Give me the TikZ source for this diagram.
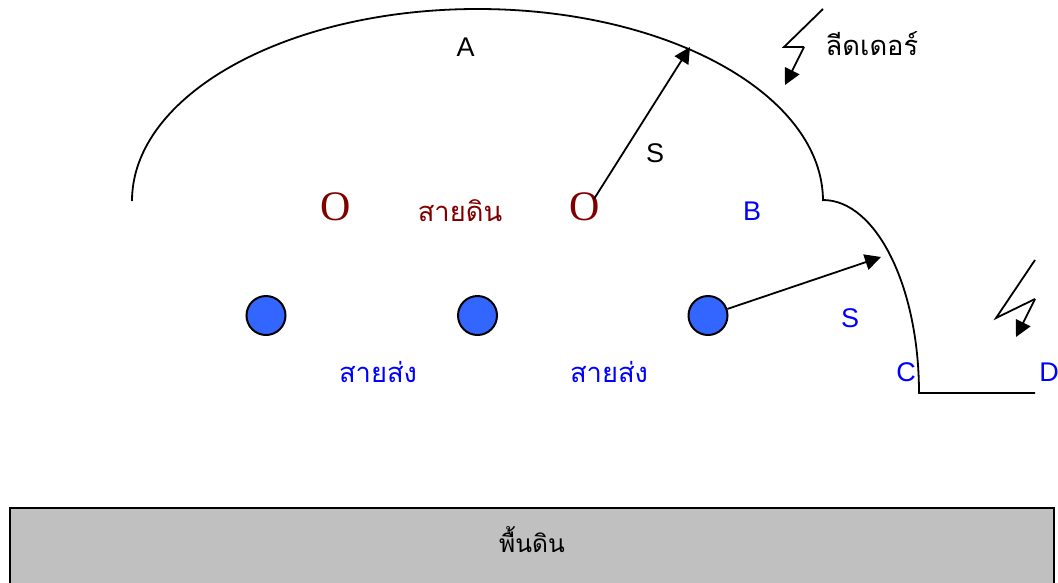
\documentclass[tikz,border=0pt]{standalone}
\usepackage{fontspec}
\setmainfont{Liberation Sans}
\newfontfamily\thaifont[Script=Thai]{Loma}
\newfontfamily\serifO{Liberation Serif}
\usetikzlibrary{arrows.meta}
\definecolor{wireblue}{HTML}{3366FF}
\definecolor{labelblue}{HTML}{0000FF}
\definecolor{earthred}{HTML}{800000}
\definecolor{ground}{HTML}{C0C0C0}
\tikzset{
  line/.style={draw=black,line width=1.8pt},
  arrowline/.style={line,-{Triangle[length=16pt,width=16pt]}},
  wire/.style={circle,draw=black,line width=2pt,fill=wireblue,minimum size=39pt,inner sep=0pt},
  lbl/.style={inner sep=0pt,font=\fontsize{27}{30}\selectfont},
  thai/.style={inner sep=0pt,font=\fontsize{27.3}{32}\selectfont\thaifont},
  earthO/.style={inner sep=0pt,text=earthred,font=\fontsize{42}{46}\selectfont\serifO}
}
\begin{document}
\begin{tikzpicture}[x=1pt,y=-1pt]
\useasboundingbox (0,0) rectangle (1058,582);
% ground
\path[line,fill=ground] (10,620) -- (10,508) -- (1054,508) -- (1054,620);
\node[thai,font=\fontsize{24.5}{30}\selectfont\thaifont] (gnd) at (532,540) {พื้นดิน};
% shield envelope
\coordinate (p1) at (132,201);
\coordinate (pB) at (823,200);
\coordinate (pC) at (919,393);
\coordinate (pD) at (1035,393);
\draw[line] (p1) arc[start angle=180,end angle=360,x radius=345.5,y radius=192];
\draw[line] (pB) arc[start angle=270,end angle=360,x radius=96,y radius=193] -- (pD);
% lightning 1
\coordinate (l1a) at (823,9);
\coordinate (l1b) at (784,47);
\coordinate (l1c) at (804,47);
\coordinate (l1d) at (785,85);
\draw[line] (l1a) -- (l1b) -- (l1c);
\draw[arrowline] (l1c) -- (l1d);
% lightning 2
\coordinate (l2a) at (1035,260);
\coordinate (l2b) at (996,318);
\coordinate (l2c) at (1035,299);
\coordinate (l2d) at (1016,337);
\draw[line] (l2a) -- (l2b) -- (l2c);
\draw[arrowline] (l2c) -- (l2d);
% earth wires
\node[earthO] (o1) at (335.5,207) {O};
\node[earthO] (o2) at (584.5,207) {O};
% phase wires
\node[wire] (w1) at (266,315.5) {};
\node[wire] (w2) at (477.5,315.5) {};
\node[wire] (w3) at (708,315.5) {};
% strike distance arrows
\coordinate (s1a) at (594,199);
\coordinate (s1b) at (690,47);
\coordinate (s2b) at (881,257);
\draw[arrowline] (s1a) -- (s1b);
\draw[arrowline] (w3) -- (s2b);
% labels
\node[lbl] (A) at (465.5,47) {A};
\node[lbl] (S1) at (655,153) {S};
\node[lbl,text=labelblue] (B) at (752,211) {B};
\node[lbl,text=labelblue] (S2) at (850,318) {S};
\node[lbl,text=labelblue] (C) at (906,372) {C};
\node[lbl,text=labelblue] (D) at (1049,372) {D};
\node[thai] (leader) at (872,44) {ลีดเดอร์};
\node[thai,text=earthred] (ew) at (460,210.5) {สายดิน};
\node[thai,text=labelblue] (ph1) at (378,371.5) {สายส่ง};
\node[thai,text=labelblue] (ph2) at (609,371.5) {สายส่ง};
\end{tikzpicture}
\end{document}
